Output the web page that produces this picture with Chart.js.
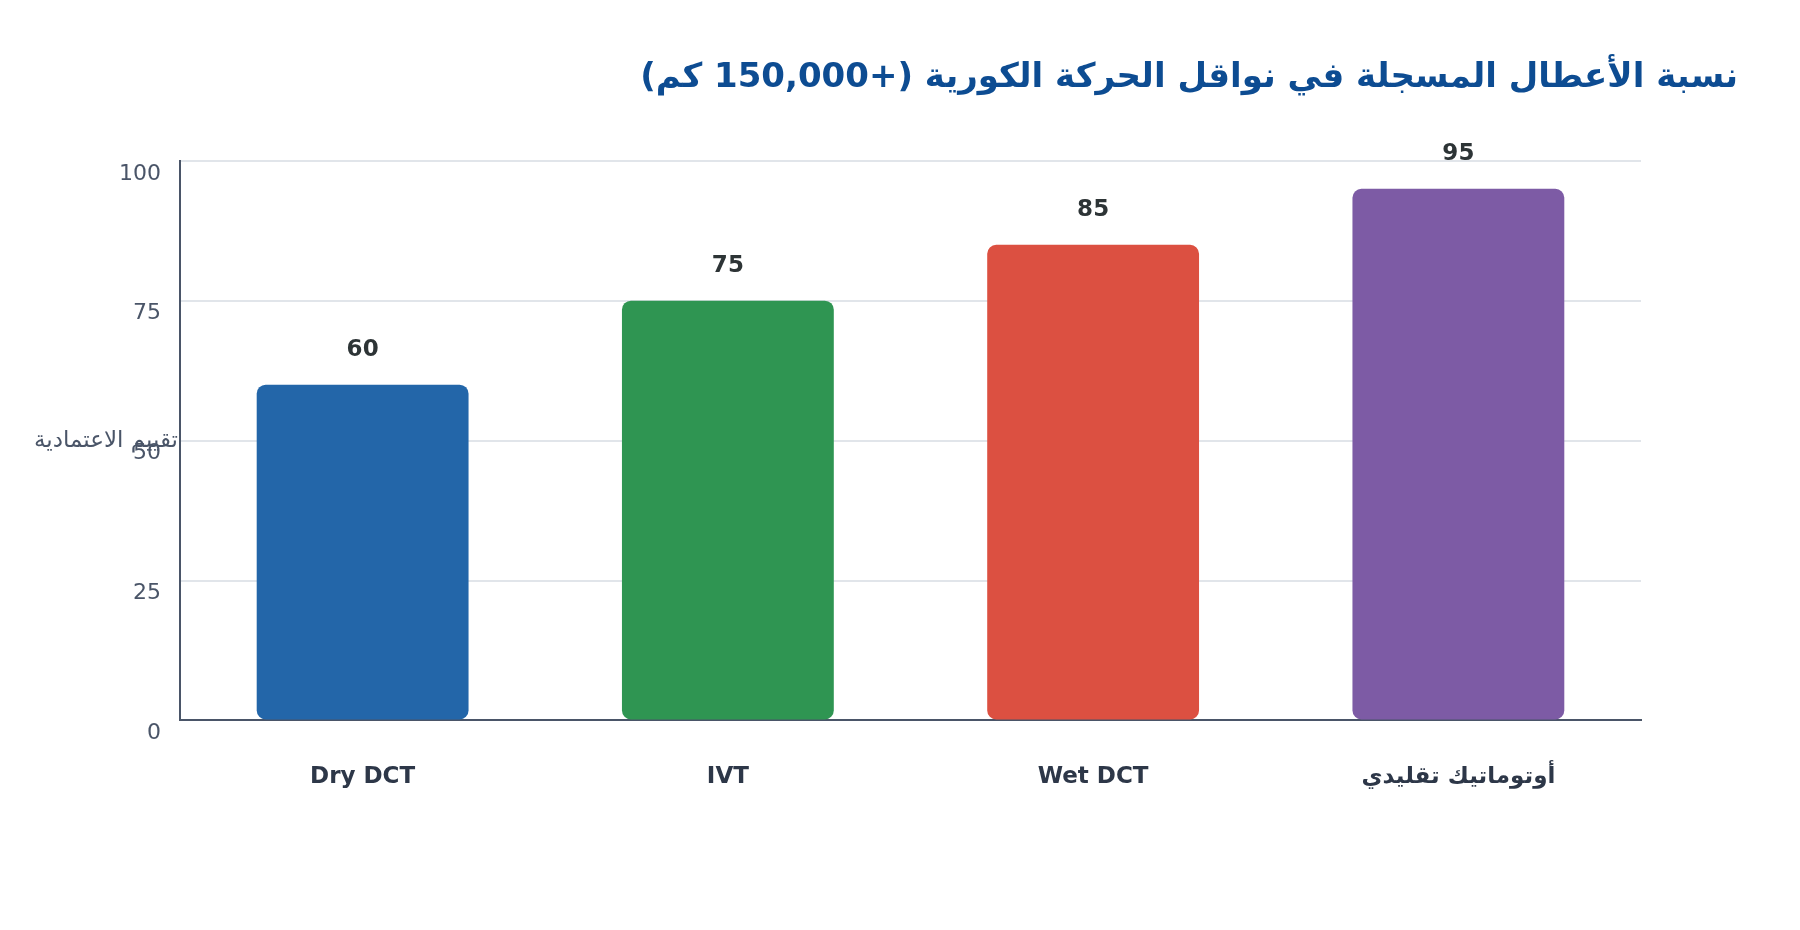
<!DOCTYPE html>
<html>
<head>
<meta charset="utf-8">
<script src="https://cdn.jsdelivr.net/npm/chart.js@4.4.1/dist/chart.umd.min.js"></script>
<style>
  html, body { margin: 0; padding: 0; background: #ffffff; }
  #wrap { width: 1800px; height: 930px; position: relative; }
</style>
</head>
<body>
<div id="wrap"><canvas id="c" width="1800" height="930"></canvas></div>
<script>
const categories = ['Dry DCT', 'IVT', 'Wet DCT', 'أوتوماتيك تقليدي'];
const values = [60, 75, 85, 95];
const barColors = ['#2366a9', '#2f9552', '#dc5041', '#7d5ba5'];
const yTicks = [0, 25, 50, 75, 100];
const chartTitle = 'نسبة الأعطال المسجلة في نواقل الحركة الكورية (+150,000 كم)';
const yAxisTitle = 'تقييم الاعتمادية';

Chart.defaults.font.family = "'DejaVu Sans', sans-serif";

const valueLabels = {
  id: 'valueLabels',
  afterDatasetsDraw(chart) {
    const ctx = chart.ctx;
    const meta = chart.getDatasetMeta(0);
    ctx.save();
    ctx.font = "bold 23px 'DejaVu Sans', sans-serif";
    ctx.fillStyle = '#2d3436';
    ctx.textAlign = 'center';
    ctx.textBaseline = 'middle';
    meta.data.forEach((bar, i) => {
      ctx.fillText(String(values[i]), bar.x, bar.y - 35);
    });
    ctx.restore();
  }
};

const yTitlePlugin = {
  id: 'yTitlePlugin',
  afterDraw(chart) {
    const ctx = chart.ctx;
    const a = chart.chartArea;
    ctx.save();
    ctx.font = "23px 'DejaVu Sans', sans-serif";
    ctx.fillStyle = '#4a5568';
    ctx.textAlign = 'right';
    ctx.textBaseline = 'middle';
    ctx.fillText(yAxisTitle, a.left - 2, (a.top + a.bottom) / 2);
    ctx.restore();
  }
};

new Chart(document.getElementById('c'), {
  type: 'bar',
  data: {
    labels: categories,
    datasets: [{
      data: values,
      backgroundColor: barColors,
      borderWidth: 0,
      borderRadius: 9,
      borderSkipped: false,
      categoryPercentage: 0.8,
      barPercentage: 0.725
    }]
  },
  options: {
    responsive: false,
    animation: false,
    devicePixelRatio: 1,
    layout: { padding: { top: 20, right: 62, bottom: 96, left: 0 } },
    plugins: {
      legend: { display: false },
      tooltip: { enabled: false },
      title: {
        display: true,
        text: chartTitle,
        align: 'end',
        color: '#0d4c92',
        font: { size: 34, weight: 'bold' },
        padding: { top: 38, bottom: 62 }
      }
    },
    scales: {
      x: {
        grid: { display: false, drawTicks: false },
        border: { display: true, color: '#4a5568', width: 2 },
        ticks: {
          color: '#2d3748',
          font: { size: 23, weight: 'bold' },
          padding: 43
        }
      },
      y: {
        min: 0,
        max: 100,
        afterBuildTicks(scale) { scale.ticks = yTicks.map(v => ({ value: v })); },
        afterFit(scale) { scale.width = 180; },
        grid: { color: '#e1e5ea', lineWidth: 2, drawTicks: false },
        border: { display: true, color: '#4a5568', width: 2 },
        ticks: {
          color: '#4a5568',
          font: { size: 22 },
          padding: 19,
          labelOffset: 13
        }
      },
      y2: {
        type: 'linear',
        position: 'right',
        display: true,
        grid: { display: false, drawTicks: false },
        border: { display: false },
        ticks: { display: false },
        afterFit(scale) { scale.width = 97; }
      }
    }
  },
  plugins: [valueLabels, yTitlePlugin]
});
</script>
</body>
</html>
